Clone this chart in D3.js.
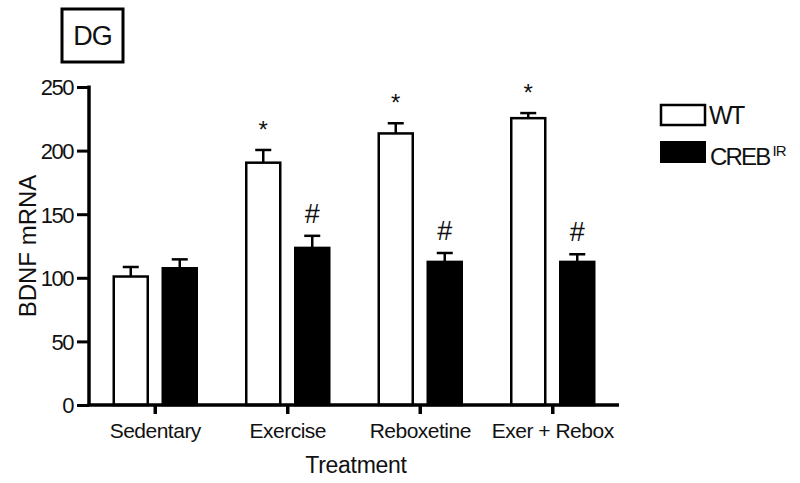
<!DOCTYPE html>
<html><head><meta charset="utf-8">
<script src="https://cdn.jsdelivr.net/npm/d3@7"></script>
<style>body{margin:0;background:#fff}svg{display:block}text{font-family:Arial,"Liberation Sans",sans-serif;fill:#111}</style>
</head><body>
<svg id="c" width="800" height="483"></svg>
<script>
const categories = ["Sedentary","Exercise","Reboxetine","Exer + Rebox"];
const seriesNames = ["WT","CREB"];
const wtValues = [101, 190.5, 213.5, 225.5];
const wtErrors = [7.5, 10, 8, 4];
const crebValues = [107.5, 123.5, 112.5, 112.5];
const crebErrors = [7, 9.5, 7, 6];
const wtMarks = ["", "*", "*", "*"];
const crebMarks = ["", "#", "#", "#"];
const yTicks = [0,50,100,150,200,250];

const svg = d3.select("#c");
const x0 = 89, x1 = 619, yBottom = 405, yTop = 87;
const x = d3.scaleBand().domain(categories).range([x0, x1]).padding(0);
const y = d3.scaleLinear().domain([0,250]).range([yBottom, yTop]);
const barW = 34, off = 24.5;
const FF = "Arial, 'Liberation Sans', sans-serif";

const groups = [
  {name:"WT", vals:wtValues, errs:wtErrors, marks:wtMarks, fill:"#fff", dx:-off},
  {name:"CREB", vals:crebValues, errs:crebErrors, marks:crebMarks, fill:"#000", dx:off}
];
groups.forEach(g=>{
  categories.forEach((c,i)=>{
    const cx = x(c) + x.bandwidth()/2 + g.dx;
    const v = g.vals[i], e = g.errs[i];
    svg.append("line").attr("x1",cx).attr("x2",cx).attr("y1",y(v)).attr("y2",y(v+e)).attr("stroke","#000").attr("stroke-width",2.5);
    svg.append("line").attr("x1",cx-8).attr("x2",cx+8).attr("y1",y(v+e)).attr("y2",y(v+e)).attr("stroke","#000").attr("stroke-width",2.5);
    svg.append("rect").attr("x",cx-barW/2).attr("y",y(v)).attr("width",barW).attr("height",yBottom-y(v))
      .attr("fill",g.fill).attr("stroke","#000").attr("stroke-width",2.5);
    if (g.marks[i]) {
      const isStar = g.marks[i]==="*";
      svg.append("text").attr("x",cx).attr("y", y(v+e) - (isStar ? 12 : 13))
        .attr("text-anchor","middle").attr("font-size", isStar?24:27).text(g.marks[i]);
    }
  });
});

// y axis
const ya = svg.append("g").attr("transform",`translate(${x0},0)`)
  .call(d3.axisLeft(y).tickValues(yTicks).tickSize(12).tickPadding(4).tickSizeOuter(0));
ya.select(".domain").attr("stroke","#000").attr("stroke-width",3.5).attr("d",`M0,${yTop-1.5}V${yBottom}`);
ya.selectAll(".tick line").attr("stroke","#000").attr("stroke-width",3);
ya.selectAll(".tick text").attr("font-size",22).attr("fill","#111").style("font-family",FF).attr("letter-spacing","-1.5").attr("dy","0.36em");

// x axis
const xa = svg.append("g").attr("transform",`translate(0,${yBottom})`)
  .call(d3.axisBottom(x).tickSize(9).tickPadding(9).tickSizeOuter(0));
xa.select(".domain").attr("stroke","#000").attr("stroke-width",3.5).attr("d",`M${x0-1.5},0H${x1}`);
xa.selectAll(".tick line").attr("stroke","#000").attr("stroke-width",3.5);
xa.selectAll(".tick text").attr("font-size",21).attr("fill","#111").style("font-family",FF).attr("letter-spacing","-0.5");

// axis titles
svg.append("text").attr("transform","translate(36,246) rotate(-90)").attr("text-anchor","middle").attr("font-size",24).text("BDNF mRNA");
svg.append("text").attr("x",356).attr("y",473).attr("text-anchor","middle").attr("font-size",23).attr("letter-spacing","-0.3").text("Treatment");

// DG box
svg.append("rect").attr("x",62).attr("y",9).attr("width",61).attr("height",53).attr("fill","#fff").attr("stroke","#000").attr("stroke-width",3);
svg.append("text").attr("x",92.5).attr("y",45).attr("text-anchor","middle").attr("font-size",27).attr("letter-spacing","-1").text("DG");

// legend
const leg = svg.append("g");
leg.append("rect").attr("x",661).attr("y",105).attr("width",44).attr("height",20).attr("fill","#fff").attr("stroke","#000").attr("stroke-width",2.5);
leg.append("text").attr("x",709).attr("y",124).attr("font-size",25).attr("letter-spacing","-2.5").text("WT");
leg.append("rect").attr("x",660).attr("y",141).attr("width",46).attr("height",22).attr("fill","#000");
const t = leg.append("text").attr("x",710).attr("y",165).attr("font-size",24).attr("letter-spacing","-1.8");
t.append("tspan").text("CREB");
t.append("tspan").attr("dy",-9).attr("dx",3).attr("font-size",15).attr("letter-spacing","-1").text("IR");
</script>
</body></html>
